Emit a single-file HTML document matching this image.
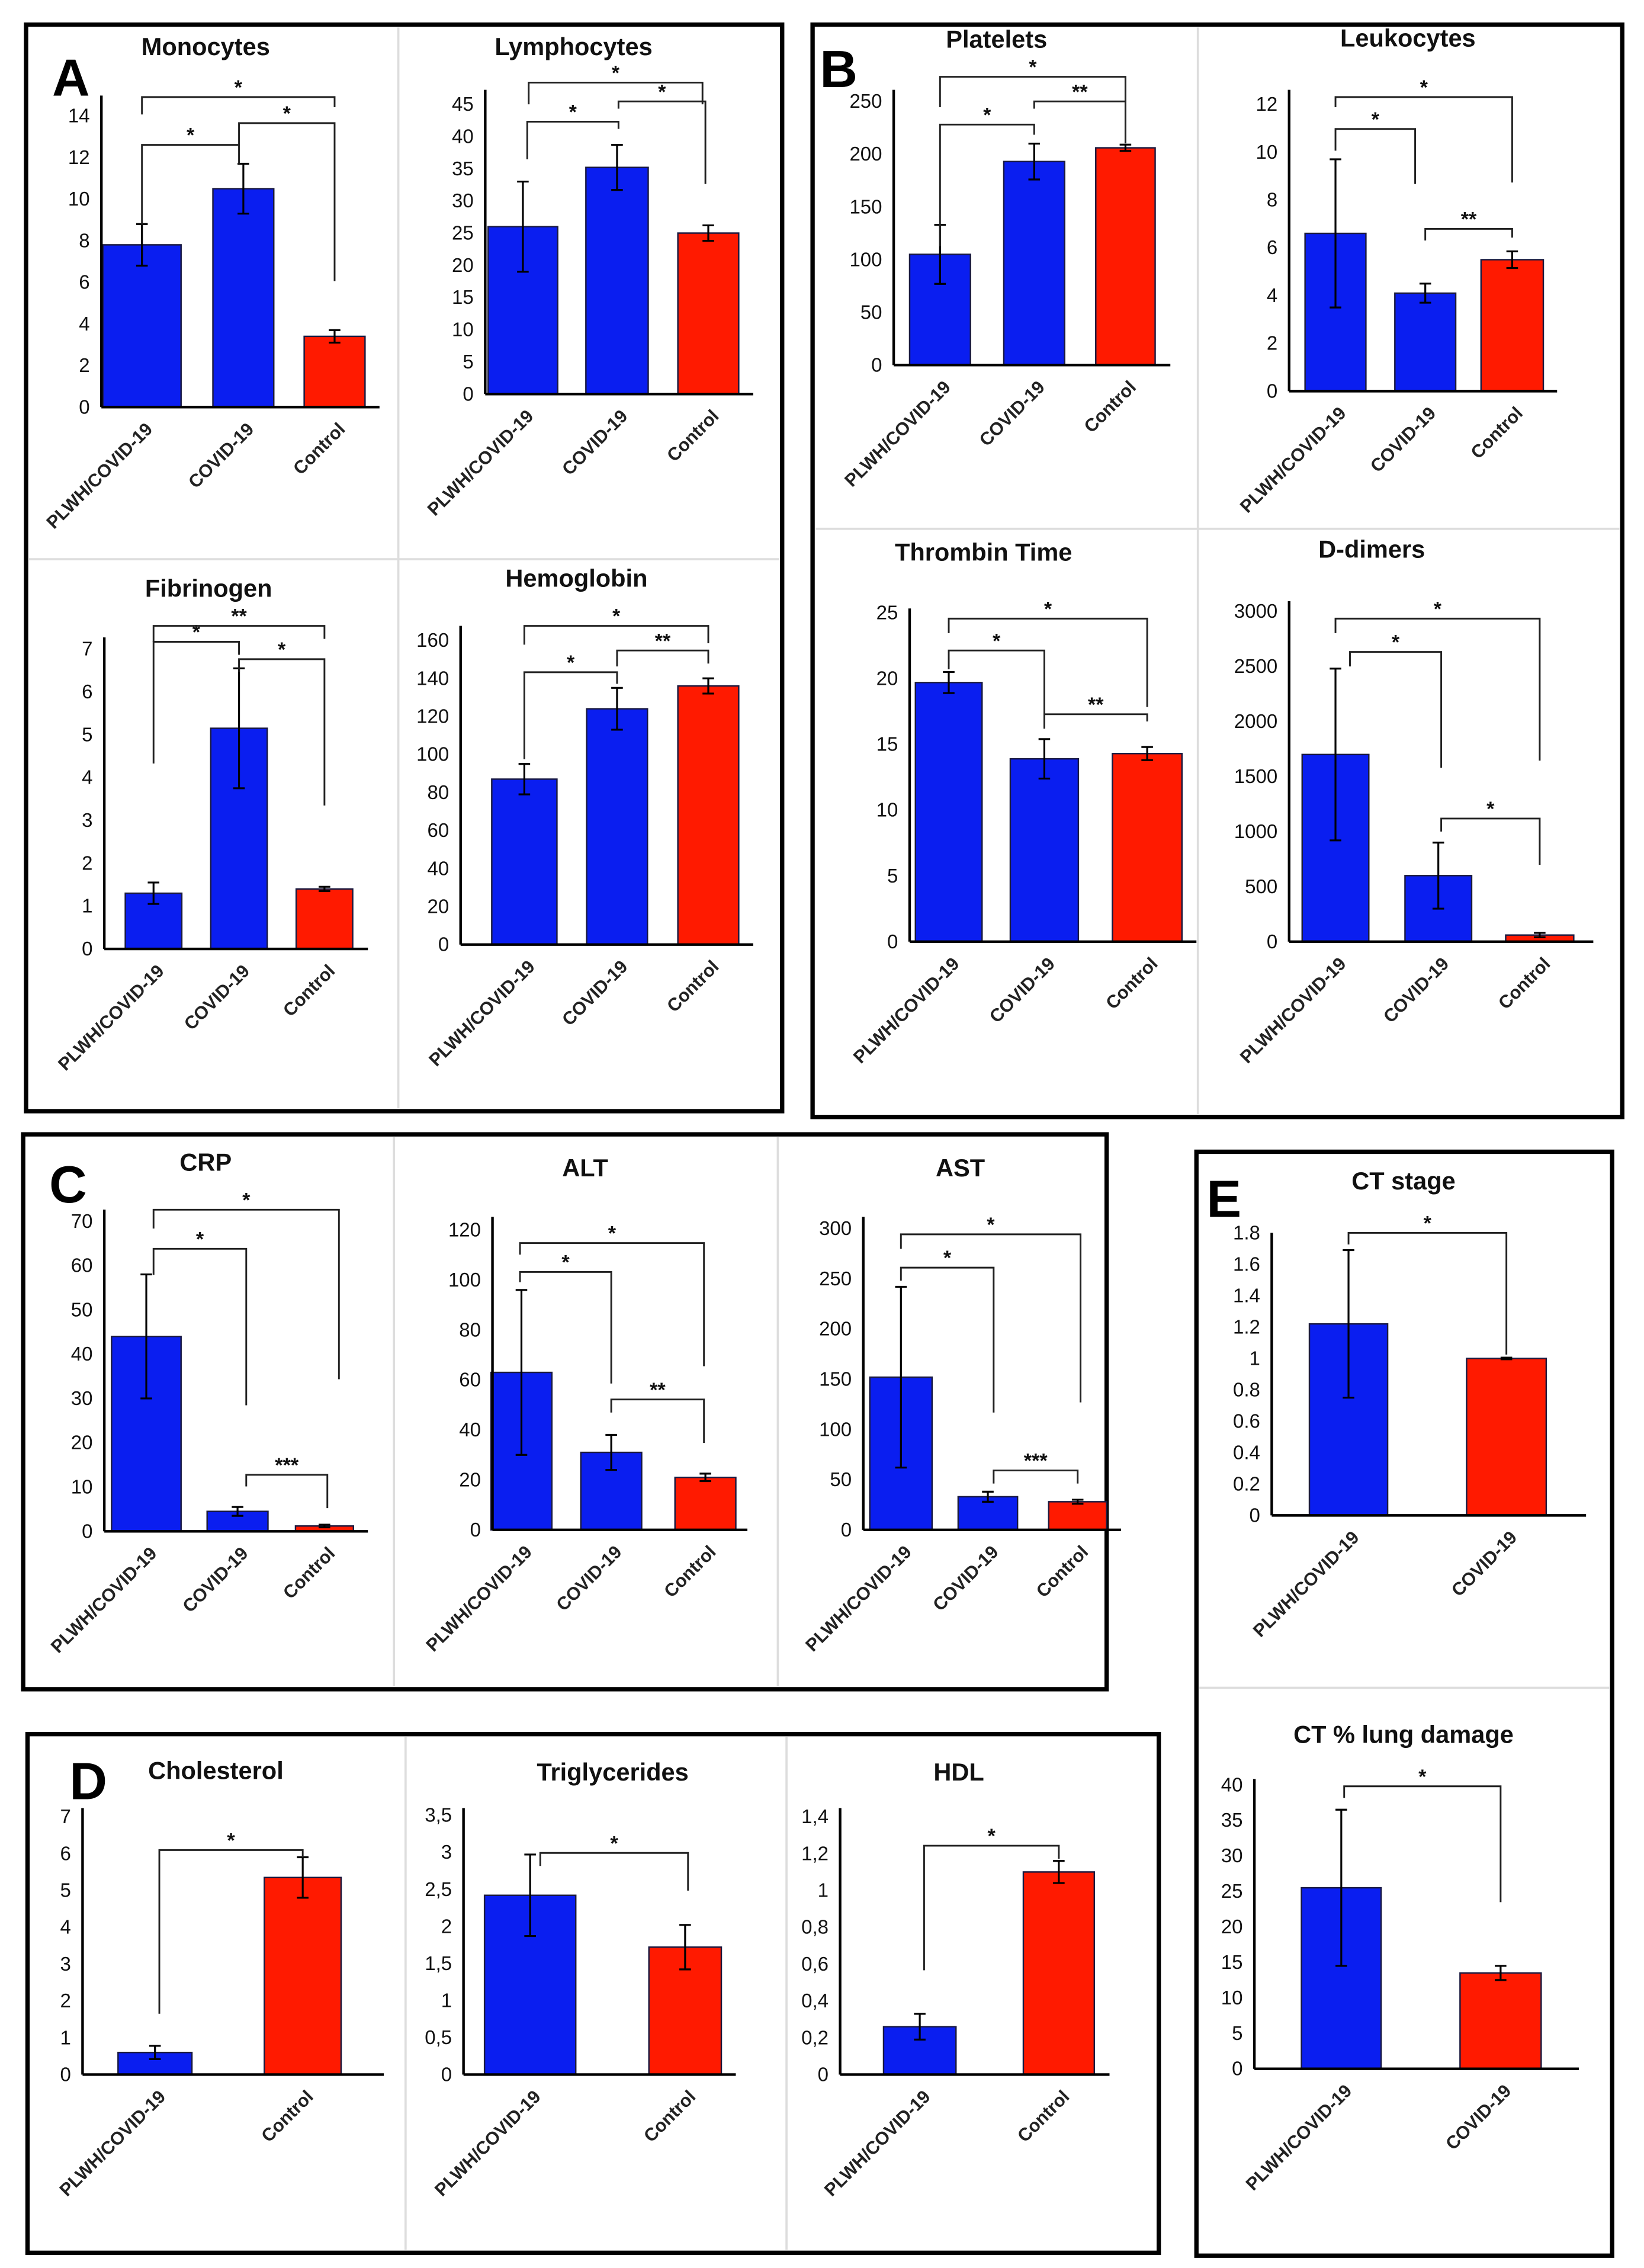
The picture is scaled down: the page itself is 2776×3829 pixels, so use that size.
<!DOCTYPE html>
<html><head><meta charset="utf-8"><style>
html,body{margin:0;padding:0;background:#fff;}
svg{display:block;}
text{font-family:"Liberation Sans",Arial,sans-serif;}
</style></head><body>
<svg id="fig" width="2776" height="3829" viewBox="0 0 1135 1565.5" preserveAspectRatio="none" xmlns="http://www.w3.org/2000/svg">
<rect x="0" y="0" width="1135" height="1566" fill="#fff"/>
<g id="frames" fill="none">
<line x1="275" y1="19" x2="275" y2="765" stroke="#ddd" stroke-width="1.5"/>
<line x1="20" y1="386" x2="538" y2="386" stroke="#ddd" stroke-width="1.5"/>
<line x1="827" y1="19" x2="827" y2="769" stroke="#ddd" stroke-width="1.5"/>
<line x1="563" y1="365" x2="1118" y2="365" stroke="#ddd" stroke-width="1.5"/>
<line x1="272" y1="785" x2="272" y2="1164" stroke="#ddd" stroke-width="1.5"/>
<line x1="537" y1="785" x2="537" y2="1164" stroke="#ddd" stroke-width="1.5"/>
<line x1="280" y1="1199" x2="280" y2="1553" stroke="#ddd" stroke-width="1.5"/>
<line x1="543" y1="1199" x2="543" y2="1553" stroke="#ddd" stroke-width="1.5"/>
<line x1="828" y1="1165" x2="1111" y2="1165" stroke="#ddd" stroke-width="1.5"/>
<rect x="18" y="17" width="522" height="750" stroke="#000" stroke-width="3"/>
<rect x="561" y="17" width="559" height="754" stroke="#000" stroke-width="3"/>
<rect x="16" y="783" width="748" height="383" stroke="#000" stroke-width="3"/>
<rect x="19" y="1197" width="781" height="358" stroke="#000" stroke-width="3"/>
<rect x="826" y="795" width="287" height="762" stroke="#000" stroke-width="3"/>
</g>
<g font-family="Liberation Serif, serif" font-weight="bold" font-size="36">
<text x="36" y="66">A</text>
<text x="566" y="60">B</text>
<text x="34" y="830">C</text>
<text x="48" y="1242">D</text>
<text x="833" y="840">E</text>
</g>
</svg>
<script>
// ---- data ----
const cats3 = ["PLWH/COVID-19","COVID-19","Control"];
const cats2 = ["PLWH/COVID-19","Control"];
const catsE = ["PLWH/COVID-19","COVID-19"];
const colors3 = ["#0a1ef0","#0a1ef0","#ff1a00"];
const colors2 = ["#0a1ef0","#ff1a00"];

const monoVals=[7.8,10.5,3.4];   const monoErr=[1.0,1.2,0.3];
const lymphVals=[26,35.2,25];    const lymphErr=[7,3.5,1.2];
const fibVals=[1.3,5.15,1.4];    const fibErr=[0.25,1.4,0.05];
const hbVals=[87,124,136];       const hbErr=[8,11,4];
const pltVals=[105,193,206];     const pltErr=[28,17,3];
const leukVals=[6.6,4.1,5.5];    const leukErr=[3.1,0.4,0.35];
const ttVals=[19.7,13.9,14.3];   const ttErr=[0.8,1.5,0.5];
const ddVals=[1700,600,60];      const ddErr=[780,300,20];
const crpVals=[44,4.5,1.2];      const crpErr=[14,1,0.3];
const altVals=[63,31,21];        const altErr=[33,7,1.5];
const astVals=[152,33,28];       const astErr=[90,5,2];
const cholVals=[0.6,5.35];       const cholErr=[0.18,0.55];
const tgVals=[2.42,1.72];        const tgErr=[0.55,0.3];
const hdlVals=[0.26,1.1];        const hdlErr=[0.07,0.06];
const ctsVals=[1.22,1.0];        const ctsErr=[0.47,0.005];
const ctlVals=[25.5,13.5];       const ctlErr=[11,1];

// ---- layout (pixel positions, in 1135-wide coordinate space) ----
const layouts=[
 {id:"monocytes",title:"Monocytes",tx:142,ty:38,ax:70,y0:281,yM:80,maxT:14,step:2,top:66,right:262,c:[98,168,231],w:[54,42,42],cats:cats3,vals:monoVals,err:monoErr,col:colors3,
  br:[[98,165,100,155,113,"*"],[98,231,67,79,74,"*"],[165,231,85,100,194,"*"]]},
 {id:"lymphocytes",title:"Lymphocytes",tx:396,ty:38,ax:335,y0:272,yM:72,maxT:45,step:5,top:62,right:520,c:[361,426,489],w:[48,43,42],cats:cats3,vals:lymphVals,err:lymphErr,col:colors3,
  br:[[365,485,57,72,72,"*"],[427,487,70,75,127,"*"],[364,427,84,110,89,"*"]]},
 {id:"fibrinogen",title:"Fibrinogen",tx:144,ty:412,ax:72,y0:655,yM:448,maxT:7,step:1,top:440,right:254,c:[106,165,224],w:[39,39,39],cats:cats3,vals:fibVals,err:fibErr,col:colors3,
  br:[[106,165,443,527,452,"*"],[106,224,432,443,441,"**"],[165,224,455,464,556,"*"]]},
 {id:"hemoglobin",title:"Hemoglobin",tx:398,ty:405,ax:318,y0:652,yM:442,maxT:160,step:20,top:432,right:520,c:[362,426,489],w:[45,42,42],cats:cats3,vals:hbVals,err:hbErr,col:colors3,
  br:[[362,426,464,524,472,"*"],[362,489,432,445,444,"*"],[426,489,449,460,458,"**"]]},
 {id:"platelets",title:"Platelets",tx:688,ty:33,ax:617,y0:252,yM:70,maxT:250,step:50,top:62,right:808,c:[649,714,777],w:[42,42,41],cats:cats3,vals:pltVals,err:pltErr,col:colors3,
  br:[[649,714,86,170,93,"*"],[649,777,53,74,70,"*"],[714,777,70,75,99,"**"]]},
 {id:"leukocytes",title:"Leukocytes",tx:972,ty:32,ax:890,y0:270,yM:72,maxT:12,step:2,top:62,right:1075,c:[922,984,1044],w:[42,42,43],cats:cats3,vals:leukVals,err:leukErr,col:colors3,
  br:[[922,977,89,104,127,"*"],[922,1044,67,74,126,"*"],[984,1044,158,166,164,"**"]]},
 {id:"thrombin-time",title:"Thrombin Time",tx:679,ty:387,ax:628,y0:650,yM:423,maxT:25,step:5,top:420,right:826,c:[655,721,792],w:[46,47,48],cats:cats3,vals:ttVals,err:ttErr,col:colors3,
  br:[[655,721,449,462,503,"*"],[655,792,427,437,488,"*"],[721,792,493,502,498,"**"]]},
 {id:"d-dimers",title:"D-dimers",tx:947,ty:385,ax:890,y0:650,yM:422,maxT:3000,step:500,top:415,right:1100,c:[922,993,1063],w:[46,46,47],cats:cats3,vals:ddVals,err:ddErr,col:colors3,
  br:[[932,995,450,460,530,"*"],[922,1063,427,437,525,"*"],[995,1063,565,574,597,"*"]]},
 {id:"crp",title:"CRP",tx:142,ty:808,ax:72,y0:1057,yM:843,maxT:70,step:10,top:835,right:254,c:[101,164,224],w:[48,42,40],cats:cats3,vals:crpVals,err:crpErr,col:colors3,
  br:[[106,234,835,848,952,"*"],[106,170,862,880,970,"*"],[170,226,1018,1026,1041,"***"]]},
 {id:"alt",title:"ALT",tx:404,ty:812,ax:340,y0:1056,yM:849,maxT:120,step:20,top:840,right:516,c:[360,422,487],w:[42,42,42],cats:cats3,vals:altVals,err:altErr,col:colors3,
  br:[[359,486,858,866,943,"*"],[359,422,878,885,955,"*"],[422,486,966,975,996,"**"]]},
 {id:"ast",title:"AST",tx:663,ty:812,ax:596,y0:1056,yM:848,maxT:300,step:50,top:840,right:774,c:[622,682,744],w:[43,41,40],cats:cats3,vals:astVals,err:astErr,col:colors3,
  br:[[622,746,852,862,968,"*"],[622,686,875,884,975,"*"],[686,744,1015,1024,1024,"***"]]},
 {id:"cholesterol",title:"Cholesterol",tx:149,ty:1228,ax:57,y0:1432,yM:1254,maxT:7,step:1,top:1248,right:265,c:[107,209],w:[51,53],cats:cats2,vals:cholVals,err:cholErr,col:colors2,dec:",",
  br:[[110,209,1277,1390,1282,"*"]]},
 {id:"triglycerides",title:"Triglycerides",tx:423,ty:1229,ax:320,y0:1432,yM:1253,maxT:3.5,step:0.5,top:1248,right:508,c:[366,473],w:[63,50],cats:cats2,vals:tgVals,err:tgErr,col:colors2,dec:",",
  br:[[373,475,1279,1288,1305,"*"]]},
 {id:"hdl",title:"HDL",tx:662,ty:1229,ax:580,y0:1432,yM:1254,maxT:1.4,step:0.2,top:1248,right:766,c:[635,731],w:[50,49],cats:cats2,vals:hdlVals,err:hdlErr,col:colors2,dec:",",
  br:[[638,731,1274,1360,1283,"*"]]},
 {id:"ct-stage",title:"CT stage",tx:969,ty:821,ax:878,y0:1046,yM:851,maxT:1.8,step:0.2,top:851,right:1095,c:[931,1040],w:[54,55],cats:catsE,vals:ctsVals,err:ctsErr,col:colors2,dec:".",
  br:[[931,1040,851,859,935,"*"]]},
 {id:"ct-lung-damage",title:"CT % lung damage",tx:969,ty:1203,ax:866,y0:1428,yM:1232,maxT:40,step:5,top:1228,right:1090,c:[926,1036],w:[55,56],cats:catsE,vals:ctlVals,err:ctlErr,col:colors2,
  br:[[928,1036,1233,1241,1313,"*"]]}
];

const NS="http://www.w3.org/2000/svg";
const svg=document.getElementById('fig');
function mk(tag,attrs,parent){const e=document.createElementNS(NS,tag);for(const k in attrs)e.setAttribute(k,attrs[k]);parent.appendChild(e);return e;}
function fmt(v,L){
  let s=(Math.round(v*1000)/1000).toString();
  if(L.dec===",")s=s.replace(".",",");
  return s;
}

layouts.forEach(L=>{
  const g=mk('g',{},svg);
  
  
  const y=v=>L.y0-(v/L.maxT)*(L.y0-L.yM);
  const t=mk('text',{x:L.tx,y:L.ty,'text-anchor':'middle','font-size':17,'font-weight':'bold',fill:'#111'},g);
  t.textContent=L.title;
  
  
  for(let v=0;v<=L.maxT+1e-9;v+=L.step){
    const tl=mk('text',{x:L.ax-8,y:y(v)+4.5,'text-anchor':'end','font-size':13.5,fill:'#111'},g);
    tl.textContent=fmt(v,L);
    
    
  }
  L.vals.forEach((v,i)=>{
    const c=L.c[i],w=L.w[i];
    const r=mk('rect',{x:c-w/2,y:y(v),width:w,height:L.y0-y(v),fill:L.col[i],stroke:'#1a1a40','stroke-width':1},g);
    
    
    const e=L.err[i];
    const eb=mk('path',{d:`M${c},${y(v-e)}V${y(v+e)}M${c-4},${y(v+e)}H${c+4}M${c-4},${y(v-e)}H${c+4}`,stroke:'#000','stroke-width':1.3,fill:'none'},g);
    
    
    const lb=mk('text',{x:c+8,y:L.y0+16,'text-anchor':'end','font-size':12.5,'font-weight':'bold',fill:'#222',transform:`rotate(-45 ${c+8} ${L.y0+16})`},g);
    lb.textContent=L.cats[i];
    
    
  });
  const ya=mk('line',{x1:L.ax,y1:L.top,x2:L.ax,y2:L.y0,stroke:'#000','stroke-width':1.8},g);
  
  
  const xa=mk('line',{x1:L.ax,y1:L.y0,x2:L.right,y2:L.y0,stroke:'#000','stroke-width':1.8},g);
  
  
  L.br.forEach(b=>{
    const [x1,x2,yt,yl,yr,lab]=b;
    const p=mk('path',{d:`M${x1},${yl}V${yt}H${x2}V${yr}`,stroke:'#222','stroke-width':1.2,fill:'none'},g);
    
    
    const s=mk('text',{x:(x1+x2)/2,y:yt-2,'text-anchor':'middle','font-size':14,'font-weight':'bold',fill:'#111'},g);
    s.textContent=lab;
    
    
  });
});
</script>
</body></html>
